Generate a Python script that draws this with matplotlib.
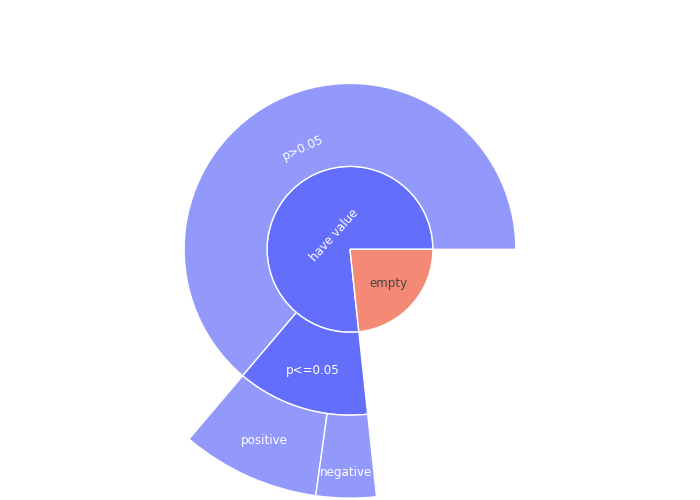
import numpy as np
import matplotlib
matplotlib.use("Agg")
import matplotlib.pyplot as plt

# sunburst data (share of total)
inner_labels = ["have value", "empty"]
middle_labels = ["p>0.05", "p<=0.05"]
outer_labels = ["positive", "negative"]

empty_value = 23.3
p_gt_value = 63.8
positive_value = 9.0
negative_value = 3.9

p_le_value = positive_value + negative_value
have_value = p_gt_value + p_le_value
total = have_value + empty_value

inner_values = [have_value, empty_value]
middle_values = [p_gt_value, p_le_value]
outer_values = [positive_value, negative_value]

blue = "#636efa"
blue_leaf = "#9299fb"
red_leaf = "#f48976"

plt.rcParams["font.family"] = ["DejaVu Sans"]

fig = plt.figure(figsize=(7, 5), dpi=100)
ax = fig.add_axes([0, 0, 1, 1])

edge = dict(edgecolor="white", linewidth=1)

# inner ring
ax.pie([v / total for v in inner_values], radius=1 / 3, startangle=0,
       normalize=False, colors=[blue, red_leaf], wedgeprops=edge)
# middle ring: children of "have value"
ax.pie([v / total for v in middle_values], radius=2 / 3, startangle=0,
       normalize=False, colors=[blue_leaf, blue],
       wedgeprops=dict(width=1 / 3, **edge))
# outer ring: children of "p<=0.05"
ax.pie([v / total for v in outer_values], radius=1.0,
       startangle=360 * p_gt_value / total, normalize=False,
       colors=[blue_leaf, blue_leaf], wedgeprops=dict(width=1 / 3, **edge))


def add_label(text, start, value, r, rotate, color="white"):
    mid = 360 * (start + value / 2) / total
    a = np.radians(mid)
    rot = mid - 90 if rotate else 0
    ax.text(r * np.cos(a), r * np.sin(a), text, ha="center", va="center",
            rotation=rot, rotation_mode="anchor", color=color, fontsize=8.6)


add_label("have value", 0, have_value, 0.085, True)
add_label("empty", have_value, empty_value, 0.205, False, color="#444444")
add_label("p>0.05", 0, p_gt_value, 0.447, True)
add_label("p<=0.05", p_gt_value, p_le_value, 0.508, False)
add_label("positive", p_gt_value, positive_value, 0.84, False)
add_label("negative", p_gt_value + positive_value, negative_value, 0.898, False)

# place centre at pixel (350, 249) with outer radius ~249 px
R = 248.8
cy = 249.3
ax.set_xlim(-350 / R, 350 / R)
ax.set_ylim(-(500 - cy) / R, cy / R)
ax.set_aspect("equal")
ax.axis("off")

fig.savefig("out.png", dpi=100)
